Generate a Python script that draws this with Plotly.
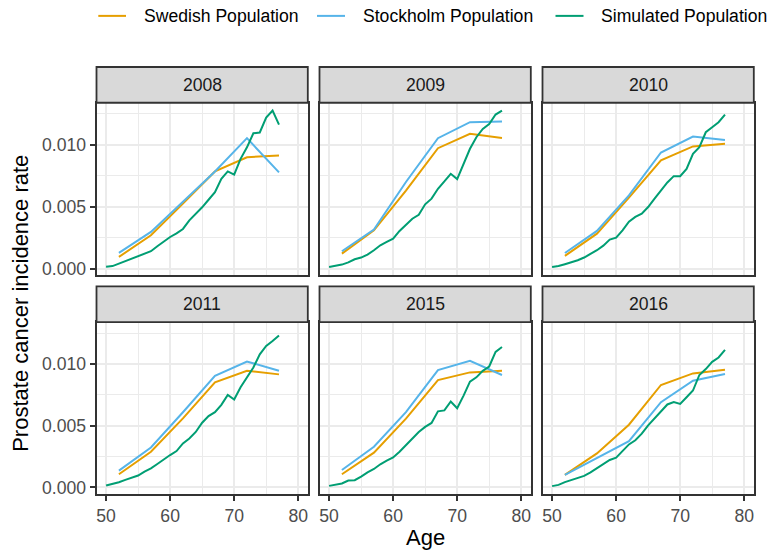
import plotly.graph_objects as go

# ---------------------------------------------------------------- data
years = ["2008", "2009", "2010", "2011", "2015", "2016"]
ages_group = [52, 57, 62, 67, 72, 77]          # 5-year age group midpoints
ages_sim = list(range(50, 78))                 # single-year ages of the simulation

series_names = ["Swedish Population", "Stockholm Population", "Simulated Population"]
series_colors = ["#E69F00", "#56B4E9", "#009E73"]

swedish_2008 = [0.00094, 0.00269, 0.00525, 0.00785, 0.00900, 0.00914]
stockholm_2008 = [0.00126, 0.00296, 0.00540, 0.00785, 0.01054, 0.00777]
simulated_2008 = [0.00015, 0.00020, 0.00040, 0.00060, 0.00075, 0.00094, 0.00115,
                  0.00140, 0.00180, 0.00220, 0.00255, 0.00285, 0.00320, 0.00390,
                  0.00440, 0.00495, 0.00556, 0.00618, 0.00726, 0.00785, 0.00760,
                  0.00887, 0.00980, 0.01094, 0.01100, 0.01220, 0.01277, 0.01164]

swedish_2009 = [0.00121, 0.00309, 0.00630, 0.00973, 0.01089, 0.01056]
stockholm_2009 = [0.00140, 0.00315, 0.00700, 0.01054, 0.01183, 0.01188]
simulated_2009 = [0.00013, 0.00020, 0.00032, 0.00050, 0.00075, 0.00089, 0.00113,
                  0.00148, 0.00188, 0.00215, 0.00242, 0.00304, 0.00355, 0.00403,
                  0.00435, 0.00519, 0.00565, 0.00645, 0.00704, 0.00766, 0.00723,
                  0.00847, 0.00968, 0.01062, 0.01129, 0.01169, 0.01245, 0.01277]

swedish_2010 = [0.00102, 0.00282, 0.00573, 0.00874, 0.00987, 0.01008]
stockholm_2010 = [0.00126, 0.00304, 0.00591, 0.00938, 0.01067, 0.01040]
simulated_2010 = [0.00013, 0.00020, 0.00035, 0.00048, 0.00067, 0.00089, 0.00116,
                  0.00148, 0.00185, 0.00234, 0.00250, 0.00309, 0.00379, 0.00417,
                  0.00444, 0.00497, 0.00565, 0.00632, 0.00696, 0.00747, 0.00747,
                  0.00806, 0.00927, 0.00981, 0.01102, 0.01142, 0.01183, 0.01245]

swedish_2011 = [0.00107, 0.00290, 0.00560, 0.00853, 0.00946, 0.00917]
stockholm_2011 = [0.00137, 0.00324, 0.00610, 0.00906, 0.01021, 0.00946]
simulated_2011 = [0.00016, 0.00027, 0.00043, 0.00062, 0.00078, 0.00097, 0.00129,
                  0.00155, 0.00190, 0.00228, 0.00263, 0.00295, 0.00357, 0.00397,
                  0.00450, 0.00525, 0.00579, 0.00611, 0.00670, 0.00751, 0.00713,
                  0.00812, 0.00893, 0.00973, 0.01080, 0.01147, 0.01188, 0.01233]

swedish_2015 = [0.00107, 0.00282, 0.00558, 0.00871, 0.00933, 0.00946]
stockholm_2015 = [0.00142, 0.00330, 0.00611, 0.00952, 0.01027, 0.00912]
simulated_2015 = [0.00013, 0.00021, 0.00032, 0.00056, 0.00059, 0.00088, 0.00123,
                  0.00150, 0.00188, 0.00217, 0.00244, 0.00290, 0.00343, 0.00397,
                  0.00450, 0.00491, 0.00523, 0.00617, 0.00625, 0.00697, 0.00643,
                  0.00745, 0.00858, 0.00893, 0.00946, 0.00981, 0.01099, 0.01139]

swedish_2016 = [0.00102, 0.00276, 0.00509, 0.00831, 0.00925, 0.00954]
stockholm_2016 = [0.00102, 0.00236, 0.00375, 0.00692, 0.00866, 0.00920]
simulated_2016 = [0.00011, 0.00021, 0.00043, 0.00062, 0.00080, 0.00094, 0.00123,
                  0.00155, 0.00188, 0.00223, 0.00241, 0.00295, 0.00349, 0.00383,
                  0.00437, 0.00504, 0.00558, 0.00611, 0.00673, 0.00692, 0.00678,
                  0.00732, 0.00786, 0.00912, 0.00960, 0.01019, 0.01054, 0.01115]

swedish = [swedish_2008, swedish_2009, swedish_2010, swedish_2011, swedish_2015, swedish_2016]
stockholm = [stockholm_2008, stockholm_2009, stockholm_2010, stockholm_2011, stockholm_2015, stockholm_2016]
simulated = [simulated_2008, simulated_2009, simulated_2010, simulated_2011, simulated_2015, simulated_2016]

x_ticks = [50, 60, 70, 80]
y_ticks = [0.0, 0.005, 0.010]
y_tick_labels = ["0.000", "0.005", "0.010"]

# ---------------------------------------------------------------- layout geometry (pixels)
W, H = 768, 557
col_px = [(96.5, 307.8), (319.5, 530.8), (542.5, 753.8)]
row_px = [(103.5, 277.0), (324.5, 497.5)]       # panel top/bottom per row
strip_h = 36.0

FONT = "Liberation Sans, Arial, Helvetica, sans-serif"
small = 17.6
border_col = "#333333"
grid_col = "#EBEBEB"


def px_x(v):
    return v / W


def px_y(v):
    return (H - v) / H


all_vals = [v for grp in (swedish, stockholm, simulated) for s in grp for v in s]
lo, hi = min(all_vals), max(all_vals)
pad = 0.05 * (hi - lo)
y_range = [lo - pad, hi + pad]
x_range = [50 - 0.05 * 30, 80 + 0.05 * 30]

fig = go.Figure()
shapes, annotations = [], []

for i, yr in enumerate(years):
    r, c = divmod(i, 3)
    k = "" if i == 0 else str(i + 1)
    xa, ya = "x" + k, "y" + k
    for name, color, xs, ys in zip(series_names, series_colors,
                                   [ages_group, ages_group, ages_sim],
                                   [swedish[i], stockholm[i], simulated[i]]):
        fig.add_trace(go.Scatter(x=xs, y=ys, mode="lines", name=name,
                                 line=dict(color=color, width=2),
                                 xaxis=xa, yaxis=ya, showlegend=False,
                                 hoverinfo="skip"))
    x0, x1 = col_px[c]
    top, bot = row_px[r]
    fig.update_layout({
        "xaxis" + k: dict(
            domain=[px_x(x0), px_x(x1)], anchor=ya, range=x_range,
            tickvals=x_ticks, showticklabels=(r == 1),
            ticks="outside" if r == 1 else "", ticklen=5, tickwidth=1.5,
            tickcolor=border_col,
            tickfont=dict(family=FONT, size=small, color="#4D4D4D"),
            showgrid=True, gridcolor=grid_col, gridwidth=2,
            minor=dict(dtick=5, tick0=0, showgrid=True, gridcolor=grid_col, gridwidth=1),
            showline=True, mirror=True, linecolor=border_col, linewidth=1.8,
            zeroline=False, fixedrange=True),
        "yaxis" + k: dict(
            domain=[px_y(bot), px_y(top)], anchor=xa, range=y_range,
            tickvals=y_ticks, ticktext=y_tick_labels, showticklabels=(c == 0),
            ticks="outside" if c == 0 else "", ticklen=5, tickwidth=1.5,
            tickcolor=border_col,
            tickfont=dict(family=FONT, size=small, color="#4D4D4D"),
            showgrid=True, gridcolor=grid_col, gridwidth=2,
            minor=dict(dtick=0.0025, tick0=0, showgrid=True, gridcolor=grid_col, gridwidth=1),
            showline=True, mirror=True, linecolor=border_col, linewidth=1.8,
            zeroline=False, fixedrange=True),
    })
    # facet strip
    shapes.append(dict(type="rect", xref="paper", yref="paper",
                       x0=px_x(x0), x1=px_x(x1), y0=px_y(top), y1=px_y(top - strip_h),
                       fillcolor="#D9D9D9", line=dict(color=border_col, width=1.8),
                       layer="above"))
    annotations.append(dict(text=yr, xref="paper", yref="paper",
                            x=px_x((x0 + x1) / 2), y=px_y(top - strip_h / 2),
                            xanchor="center", yanchor="middle", showarrow=False,
                            font=dict(family=FONT, size=small, color="#1A1A1A")))

# legend row along the top
legend_line_px = [(98.3, 126.0), (317.0, 345.0), (555.5, 583.5)]
legend_y = 16.0
for name, color, (lx0, lx1) in zip(series_names, series_colors, legend_line_px):
    shapes.append(dict(type="line", xref="paper", yref="paper",
                       x0=px_x(lx0), x1=px_x(lx1), y0=px_y(legend_y), y1=px_y(legend_y),
                       line=dict(color=color, width=2)))
    annotations.append(dict(text=name, xref="paper", yref="paper",
                            x=px_x(lx1 + 15.5), y=px_y(legend_y + 0.5),
                            xanchor="left", yanchor="middle", showarrow=False,
                            font=dict(family=FONT, size=small, color="#000000")))

# axis titles
annotations.append(dict(text="Age", xref="paper", yref="paper",
                        x=px_x(425), y=px_y(541), xanchor="center", yanchor="middle",
                        showarrow=False, font=dict(family=FONT, size=22, color="#000000")))
annotations.append(dict(text="Prostate cancer incidence rate", xref="paper", yref="paper",
                        x=px_x(21), y=px_y(306), xanchor="center", yanchor="middle",
                        textangle=-90, showarrow=False,
                        font=dict(family=FONT, size=22, color="#000000")))

fig.update_layout(
    width=W, height=H, autosize=False,
    margin=dict(l=0, r=0, t=0, b=0),
    paper_bgcolor="white", plot_bgcolor="white",
    showlegend=False, shapes=shapes, annotations=annotations,
    font=dict(family=FONT),
)

fig.write_html("out.html", config={"displayModeBar": False})
